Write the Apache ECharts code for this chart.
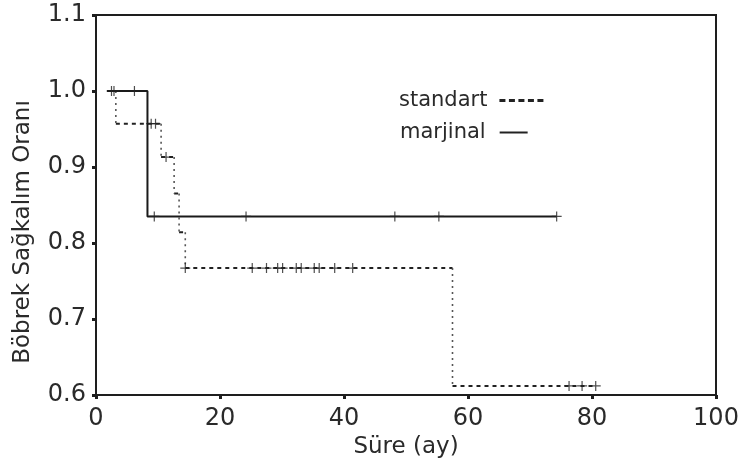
<!DOCTYPE html>
<html><head><meta charset="utf-8">
<script src="https://cdn.jsdelivr.net/npm/echarts@6/dist/echarts.min.js"></script>
<style>html,body{margin:0;padding:0;background:#fff}#c{width:742px;height:469px}</style>
</head><body><div id="c"></div>
<script>
// Kaplan-Meier step points (time in months, survival after the step)
const standartTimes = [1.8, 3.2, 10.5, 12.6, 13.4, 14.4, 57.5, 80.6];
const standartSurv  = [1.0, 0.957, 0.913, 0.865, 0.814, 0.767, 0.612, 0.612];
const standartCensor = [2.9, 8.9, 9.6, 11.3, 14.4, 25.2, 27.5, 29.3, 30.1, 32.3, 33.1, 35.2, 36.0, 38.5, 41.4, 76.3, 78.4, 80.6];

const marjinalTimes = [1.8, 8.3, 74.3];
const marjinalSurv  = [1.0, 0.835, 0.835];
const marjinalCensor = [2.5, 6.2, 9.4, 24.2, 48.2, 55.3, 74.3];

const xTicks = [0, 20, 40, 60, 80, 100];
const yTicks = [0.6, 0.7, 0.8, 0.9, 1.0, 1.1];

function survAt(times, surv, t) {
  let v = surv[0];
  for (let i = 0; i < times.length; i++) { if (times[i] <= t) v = surv[i]; }
  return v;
}
function horiz(times, surv) {
  const d = [];
  for (let i = 0; i < times.length - 1; i++) {
    d.push([times[i], surv[i]], [times[i + 1], surv[i]], '-');
  }
  return d;
}
function vert(times, surv) {
  const d = [];
  for (let i = 0; i < times.length - 1; i++) {
    if (surv[i] !== surv[i + 1]) d.push([times[i + 1], surv[i]], [times[i + 1], surv[i + 1]], '-');
  }
  return d;
}
const FONT = '"DejaVu Sans", sans-serif';
const INK = '#1e1e1e';
const TXT = '#2a2a2a';
const plus = 'path://M0,4.4h10v1.2h-10z M4.4,0h1.2v10h-1.2z';
const dashIcon = 'path://M0,0h6v3h-6z M9.5,0h6v3h-6z M19,0h6v3h-6z M28.5,0h6v3h-6z M38,0h6v3h-6z';
const solidIcon = 'path://M0,0h28v2h-28z';

const chart = echarts.init(document.getElementById('c'), null, {renderer: 'canvas'});
chart.setOption({
  animation: false,
  backgroundColor: '#fff',
  grid: {left: 96, right: 26, top: 15, bottom: 74, show: true, borderColor: INK, borderWidth: 2, containLabel: false},
  legend: [
    {data: [{name: 'standart', icon: dashIcon}], orient: 'vertical', align: 'right', left: 394, top: 85, itemWidth: 44, itemHeight: 3,
     itemStyle: {color: '#222'}, textStyle: {fontFamily: FONT, fontSize: 21, color: TXT, padding: [0, 7, 0, 0]}},
    {data: [{name: 'marjinal', icon: solidIcon}], orient: 'vertical', align: 'right', left: 395, top: 117, itemWidth: 28, itemHeight: 2,
     itemStyle: {color: '#222'}, textStyle: {fontFamily: FONT, fontSize: 21, color: TXT, padding: [0, 9, 0, 0]}}
  ],
  xAxis: {
    type: 'value', min: 0, max: 100, interval: 20,
    name: 'Süre (ay)', nameLocation: 'middle', nameGap: 38,
    nameTextStyle: {fontFamily: FONT, fontSize: 23, color: TXT},
    axisLine: {show: true, lineStyle: {color: INK, width: 2}},
    axisTick: {show: true, length: 4, inside: false, lineStyle: {color: INK, width: 3}},
    axisLabel: {fontFamily: FONT, fontSize: 24, color: TXT, margin: 12,
      formatter: v => xTicks.includes(v) ? String(v) : ''},
    splitLine: {show: false}
  },
  yAxis: {
    type: 'value', min: 0.6, max: 1.1, interval: 0.1,
    name: 'Böbrek Sağkalım Oranı', nameLocation: 'middle', nameGap: 61,
    nameTextStyle: {fontFamily: FONT, fontSize: 23, color: TXT, padding: [0, 54, 0, 0]},
    axisLine: {show: true, lineStyle: {color: INK, width: 2}},
    axisTick: {show: true, length: 4, inside: false, lineStyle: {color: INK, width: 3}},
    axisLabel: {fontFamily: FONT, fontSize: 24, color: TXT, margin: 10,
      formatter: v => { const t = yTicks.find(y => Math.abs(y - v) < 1e-6); return t === undefined ? '' : t.toFixed(1); }},
    splitLine: {show: false}
  },
  series: [
    {name: 'standart', type: 'line', data: horiz(standartTimes, standartSurv), symbol: 'none',
     connectNulls: false, lineStyle: {color: '#222', width: 2, type: [4, 4]}, itemStyle: {color: '#222'}, z: 3},
    {name: 'standart-v', type: 'line', data: vert(standartTimes, standartSurv), symbol: 'none',
     connectNulls: false, lineStyle: {color: '#555', width: 1.6, type: [2, 4]}, z: 3},
    {name: 'marjinal', type: 'line', data: marjinalTimes.map((t, i) => [t, marjinalSurv[i]]), step: 'end', symbol: 'none',
     lineStyle: {color: '#1a1a1a', width: 2}, itemStyle: {color: '#1a1a1a'}, z: 4},
    {name: 'standart-c', type: 'scatter', symbol: plus, symbolSize: 10,
     data: standartCensor.map(t => [t, survAt(standartTimes, standartSurv, t)]),
     itemStyle: {color: '#222'}, z: 5},
    {name: 'marjinal-c', type: 'scatter', symbol: plus, symbolSize: 10,
     data: marjinalCensor.map(t => [t, survAt(marjinalTimes, marjinalSurv, t)]),
     itemStyle: {color: '#222'}, z: 5}
  ]
});
</script></body></html>
